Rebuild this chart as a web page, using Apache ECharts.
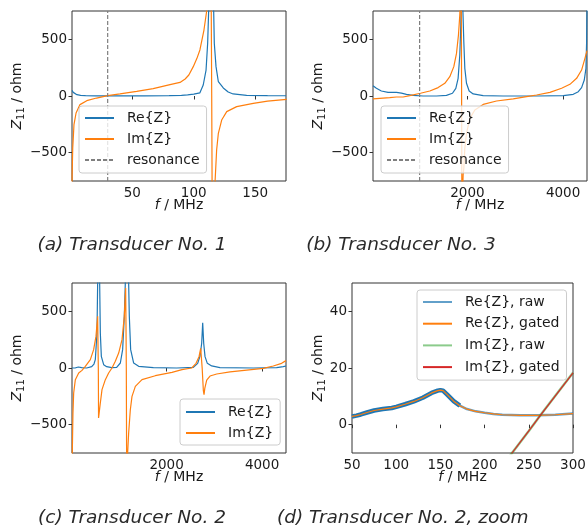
<!DOCTYPE html>
<html><head><meta charset="utf-8">
<script src="https://cdn.jsdelivr.net/npm/echarts@6/dist/echarts.min.js"></script>
<style>html,body{margin:0;padding:0;background:#fff}#c{width:588px;height:531px}</style>
</head><body><div id="c"></div>
<script>
// ---------- data (f in MHz, Z in ohm) ----------
const reA = [[1,50],[2,32],[3,22],[5,12],[8,6],[12,3],[20,1],[40,0.5],[60,1],[80,3],[90,6],[95,10],[100,16],[105,28],[107.7,97],[110,229],[111.3,465],[112.1,750],[113,1100],[114.2,1300],[115.3,1100],[116.2,750],[116.7,465],[118.1,259],[120,126],[124,71],[128,35],[132,18],[143,6],[160,3],[175,2]];
const imA = [[1,-1500],[1.1,-694],[1.6,-459],[2.6,-253],[4.3,-150],[7.5,-76],[13,-41],[21,-18],[30,3],[40,18],[53.6,41],[67,65],[80.7,100],[88.8,120],[93,150],[96,185],[99.6,259],[102.5,330],[105,406],[108.3,582],[110.5,750],[112,1000],[113,1500],[114,1200],[114.6,0],[115.2,-1500],[116.5,-1300],[117.3,-760],[118.6,-477],[120,-329],[122.7,-212],[126.8,-138],[134.9,-94],[148.4,-65],[160,-45],[175.5,-29]];
const resonanceA = [30];

const reB = [[25,91],[96,68],[200,44],[340,32],[515,32],[620,26],[724,15],[864,6],[1073,0],[1352,0],[1561,6],[1687,24],[1757,68],[1805,156],[1840,362],[1861,626],[1872,900],[1885,1300],[1897,900],[1905,750],[1924,479],[1945,244],[1980,112],[2036,44],[2120,18],[2329,3],[2748,0],[3446,0],[4004,3],[4213,15],[4318,38],[4387,74],[4443,141],[4478,244],[4492,479],[4500,800]];
const imB = [[25,-26],[167,-21],[376,-15],[515,-9],[655,-9],[794,3],[1018,24],[1213,44],[1387,74],[1527,112],[1631,170],[1715,259],[1771,376],[1812,538],[1840,714],[1855,900],[1866,1150],[1872,800],[1878,0],[1884,-1000],[1895,-900],[1910,-694],[1925,-635],[1945,-462],[1980,-329],[2050,-197],[2155,-123],[2329,-74],[2608,-44],[2957,-26],[3236,-6],[3446,9],[3725,32],[3969,68],[4143,103],[4283,156],[4387,229],[4457,332],[4500,400]];
const resonanceB = [1000];

const reC = [[20,0],[83,0],[152,9],[222,3],[327,0],[432,12],[480,35],[508,74],[543,309],[557,750],[570,1200],[585,1300],[599,750],[613,309],[634,103],[683,29],[746,12],[850,4],[955,6],[1032,44],[1080,162],[1115,456],[1136,750],[1160,1400],[1185,1400],[1206,750],[1220,456],[1248,162],[1311,44],[1415,15],[1723,3],[2212,0],[2561,6],[2651,41],[2700,106],[2735,218],[2756,400],[2777,218],[2805,100],[2853,41],[2944,18],[3118,3],[3816,0],[4304,3],[4443,12],[4500,18]];
const imC = [[20,-900],[40,-400],[55,-221],[90,-103],[160,-44],[229,-21],[299,15],[404,74],[473,162],[522,279],[557,456],[564,460],[571,0],[576,-441],[582,-420],[613,-309],[648,-191],[718,-103],[787,-44],[857,0],[927,59],[997,132],[1067,250],[1115,456],[1143,706],[1150,400],[1157,0],[1165,-1000],[1178,-1000],[1185,-750],[1206,-574],[1241,-368],[1276,-250],[1346,-162],[1485,-103],[1764,-68],[2113,-38],[2322,-15],[2526,0],[2617,41],[2679,100],[2714,173],[2725,180],[2745,0],[2770,-200],[2784,-235],[2800,-180],[2840,-106],[2909,-71],[3049,-53],[3328,-35],[3677,-18],[4025,-3],[4234,18],[4408,41],[4500,65]];

const reGatedD = [[50,2.9],[55,3.2],[60,3.6],[67,4.3],[75,5.0],[85,5.5],[95,5.9],[100,6.3],[110,7.2],[120,8.2],[130,9.5],[140,11.2],[147,12.0],[150,12.2],[153,12.0],[158,10.5],[165,8.3],[172,6.7],[180,5.5],[190,4.7],[200,4.2],[210,3.8],[220,3.5],[240,3.3],[260,3.3],[280,3.5],[300,3.9]];
const reRawD = [[50,2.9],[55,3.2],[60,3.6],[67,4.3],[75,5.0],[85,5.5],[95,5.9],[100,6.3],[110,7.2],[120,8.2],[130,9.5],[140,11.2],[147,12.0],[150,12.2],[153,12.0],[158,10.5],[165,8.3],[172,6.7],[180,5.5],[190,4.7],[200,4.2],[210,3.8],[220,3.5],[240,3.3],[260,3.3],[280,3.5],[300,3.9]];
const imRawD = [[215,-17],[231,-10],[250,-2.2],[265,4.1],[280,10.2],[300,18.3]];
const imGatedD = [[215,-17],[231,-10],[250,-2.2],[265,4.1],[280,10.2],[300,18.3]];

const ticksA = [50,100,150];
const ticksBC = [2000,4000];
const ticksD = [50,100,150,200,250,300];
const ticksYabc = [-500,0,500];
const ticksYd = [0,20,40];
const captions = ['(a) Transducer No. 1','(b) Transducer No. 3','(c) Transducer No. 2','(d) Transducer No. 2, zoom'];

// ---------- style ----------
const F = 'DejaVu Sans';
const TC = '#1a1a1a';
const BLUE='#1f77b4', ORANGE='#ff7f0e', GREEN='#2ca02c', RED='#d62728';
const fmt = v => String(v).replace('-', '\u2212');
const LW = 1.2;
const CAPFONT = 'oblique 18.5px "DejaVu Sans"';

const grids = [
  {left:72, top:11, width:214, height:170},
  {left:373, top:11, width:214, height:170},
  {left:72, top:283, width:214, height:170},
  {left:352, top:283, width:221, height:170}
].map(g => Object.assign(g, {show:true, borderColor:'#333', borderWidth:1, backgroundColor:'transparent', containLabel:false, outerBoundsMode:'none'}));

const nameRich = {
  i:{fontStyle:'italic', fontSize:14, fontFamily:F, color:TC},
  s:{fontSize:10, fontFamily:F, color:TC, padding:[7,0,0,0]},
  n:{fontSize:14, fontFamily:F, color:TC}
};
function xAx(gi, min, max, ticks, gap){
  return {type:'value', gridIndex:gi, min, max,
    axisLine:{show:false}, splitLine:{show:false},
    axisTick:{show:true, inside:false, length:3.5, customValues:ticks, lineStyle:{color:'#333', width:1}},
    axisLabel:{customValues:ticks, margin:5, fontSize:13.5, fontFamily:F, color:TC, formatter:fmt},
    name:'{i|f}{n| / MHz}', nameLocation:'middle', nameGap:gap, nameMoveOverlap:false,
    nameTextStyle:{fontSize:14, fontFamily:F, color:TC, rich:nameRich}};
}
function yAx(gi, min, max, ticks, gap){
  return {type:'value', gridIndex:gi, min, max,
    axisLine:{show:false}, splitLine:{show:false},
    axisTick:{show:true, inside:false, length:3.5, customValues:ticks, lineStyle:{color:'#333', width:1}},
    axisLabel:{customValues:ticks, margin:5, fontSize:13.5, fontFamily:F, color:TC, formatter:fmt},
    name:'{i|Z}{s|11}{n| / ohm}', nameLocation:'middle', nameRotate:90, nameGap:gap, nameMoveOverlap:false,
    nameTextStyle:{fontSize:14, fontFamily:F, color:TC, rich:nameRich}};
}
function line(name, gi, data, color, width, extra){
  return Object.assign({type:'line', name, xAxisIndex:gi, yAxisIndex:gi, data,
    symbol:'none', showSymbol:false, clip:true, animation:false,
    lineStyle:{color, width}, itemStyle:{color}, emphasis:{disabled:true}}, extra||{});
}
function vline(name, gi, x, ymin, ymax){
  return line(name, gi, [[x,ymin],[x,ymax]], '#7f7f7f', LW, {lineStyle:{color:'#7f7f7f', width:LW, type:[4,2]}});
}
function legend(left, top, names, pad, gap){
  return {show:true, left, top, orient:'vertical', data:names, itemWidth:29, itemHeight:14, itemGap:gap,
    padding:pad, backgroundColor:'rgba(255,255,255,0.8)', borderColor:'#cccccc', borderWidth:1, borderRadius:3,
    selectedMode:false, itemStyle:{opacity:0, borderWidth:0},
    textStyle:{fontSize:14, fontFamily:F, color:TC, padding:[0,0,0,8]}};
}

const option = {
  animation:false,
  grid: grids,
  xAxis:[xAx(0,1,175,ticksA,17), xAx(1,25,4500,ticksBC,17), xAx(2,20,4500,ticksBC,17), xAx(3,50,300,ticksD,17)],
  yAxis:[yAx(0,-750,750,ticksYabc,46), yAx(1,-750,750,ticksYabc,46), yAx(2,-750,750,ticksYabc,46), yAx(3,-10,50,ticksYd,25)],
  legend:[
    legend(79,106,['Re{Z}','Im{Z}','resonance'],[5,7,6,5],7),
    legend(381,106,['Re{Z}','Im{Z}','resonance'],[5,7,6,5],7),
    legend(180,399,['Re{Z}','Im{Z}'],[6,7,5,5],7),
    legend(417,290,['Re{Z}, raw','Re{Z}, gated','Im{Z}, raw','Im{Z}, gated'],[5,7,6,5],7.7)
  ],
  series:[
    line('Re{Z}',0,reA,BLUE,LW), line('Im{Z}',0,imA,ORANGE,LW), vline('resonance',0,resonanceA[0],-750,750),
    line('Re{Z}',1,reB,BLUE,LW), line('Im{Z}',1,imB,ORANGE,LW), vline('resonance',1,resonanceB[0],-750,750),
    line('Re{Z}',2,reC,BLUE,LW), line('Im{Z}',2,imC,ORANGE,LW),
    line('Re{Z}, raw',3,reRawD,BLUE,2.5,{lineStyle:{color:BLUE,width:2.5,opacity:0.7}}),
    line('Re{Z}, raw',3,reRawD.filter(p=>p[0]<=178),BLUE,4.5),
    line('Re{Z}, gated',3,reGatedD,ORANGE,LW),
    line('Im{Z}, raw',3,imRawD,GREEN,2.5,{lineStyle:{color:GREEN,width:2.5,opacity:0.55}}),
    line('Im{Z}, gated',3,imGatedD,RED,LW)
  ],
  graphic:[
    {type:'text', x:132, y:245, style:{text:captions[0], font:CAPFONT, fill:'#2a2a2a', align:'center', verticalAlign:'middle'}},
    {type:'text', x:401, y:245, style:{text:captions[1], font:CAPFONT, fill:'#2a2a2a', align:'center', verticalAlign:'middle'}},
    {type:'text', x:132, y:518, style:{text:captions[2], font:CAPFONT, fill:'#2a2a2a', align:'center', verticalAlign:'middle'}},
    {type:'text', x:277, y:518, style:{text:captions[3], font:CAPFONT, fill:'#2a2a2a', align:'left', verticalAlign:'middle'}}
  ]
};
const chart = echarts.init(document.getElementById('c'), null, {renderer:'canvas'});
chart.setOption(option);
</script></body></html>
